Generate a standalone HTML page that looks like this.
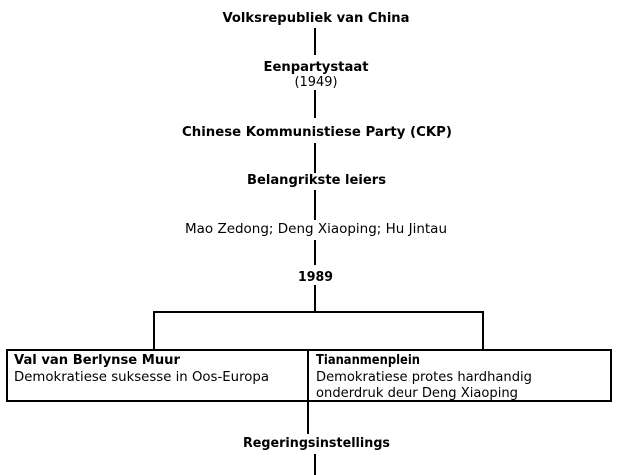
<!DOCTYPE html>
<html>
<head>
<meta charset="utf-8">
<style>
  html, body { margin: 0; padding: 0; background: #fff; }
  svg { display: block; }
  text { font-family: "DejaVu Sans", "Liberation Sans", sans-serif; font-size: 13.5px; fill: #000; }
  .b { font-weight: bold; }
</style>
</head>
<body>
<svg width="617" height="475" viewBox="0 0 617 475" xmlns="http://www.w3.org/2000/svg">
  <rect x="0" y="0" width="617" height="475" fill="#fff"/>

  <!-- vertical trunk segments -->
  <rect x="314" y="28" width="2" height="27" fill="#000"/>
  <rect x="314" y="90" width="2" height="28" fill="#000"/>
  <rect x="314" y="143" width="2" height="30" fill="#000"/>
  <rect x="314" y="190" width="2" height="30" fill="#000"/>
  <rect x="314" y="240" width="2" height="25" fill="#000"/>
  <rect x="314" y="285" width="2" height="27" fill="#000"/>

  <!-- branch -->
  <rect x="153" y="311" width="331" height="2" fill="#000"/>
  <rect x="153" y="311" width="2" height="39" fill="#000"/>
  <rect x="482" y="311" width="2" height="39" fill="#000"/>

  <!-- box -->
  <rect x="7" y="350" width="604" height="51" fill="none" stroke="#000" stroke-width="2"/>
  <rect x="307" y="350" width="2" height="51" fill="#000"/>

  <!-- lower lines -->
  <rect x="307" y="401" width="2" height="33" fill="#000"/>
  <rect x="314" y="454" width="2" height="21" fill="#000"/>

  <!-- labels -->
  <text class="b" x="316" y="22" text-anchor="middle" textLength="187" lengthAdjust="spacingAndGlyphs">Volksrepubliek van China</text>
  <text class="b" x="316" y="71" text-anchor="middle" textLength="105" lengthAdjust="spacingAndGlyphs">Eenpartystaat</text>
  <text x="316" y="86" text-anchor="middle" textLength="43" lengthAdjust="spacingAndGlyphs">(1949)</text>
  <text class="b" x="317" y="136" text-anchor="middle" textLength="270" lengthAdjust="spacingAndGlyphs">Chinese Kommunistiese Party (CKP)</text>
  <text class="b" x="316.5" y="184" text-anchor="middle" textLength="139" lengthAdjust="spacingAndGlyphs">Belangrikste leiers</text>
  <text x="316" y="233" text-anchor="middle" textLength="262" lengthAdjust="spacingAndGlyphs">Mao Zedong; Deng Xiaoping; Hu Jintau</text>
  <text class="b" x="315.5" y="281" text-anchor="middle" textLength="35" lengthAdjust="spacingAndGlyphs">1989</text>

  <text class="b" x="14" y="364" textLength="166" lengthAdjust="spacingAndGlyphs">Val van Berlynse Muur</text>
  <text x="14" y="381" textLength="255" lengthAdjust="spacingAndGlyphs">Demokratiese suksesse in Oos-Europa</text>

  <text class="b" x="316" y="364" textLength="104" lengthAdjust="spacingAndGlyphs">Tiananmenplein</text>
  <text x="316" y="381" textLength="216" lengthAdjust="spacingAndGlyphs">Demokratiese protes hardhandig</text>
  <text x="316" y="397" textLength="202" lengthAdjust="spacingAndGlyphs">onderdruk deur Deng Xiaoping</text>

  <text class="b" x="316.5" y="447" text-anchor="middle" textLength="147" lengthAdjust="spacingAndGlyphs">Regeringsinstellings</text>
</svg>
</body>
</html>
